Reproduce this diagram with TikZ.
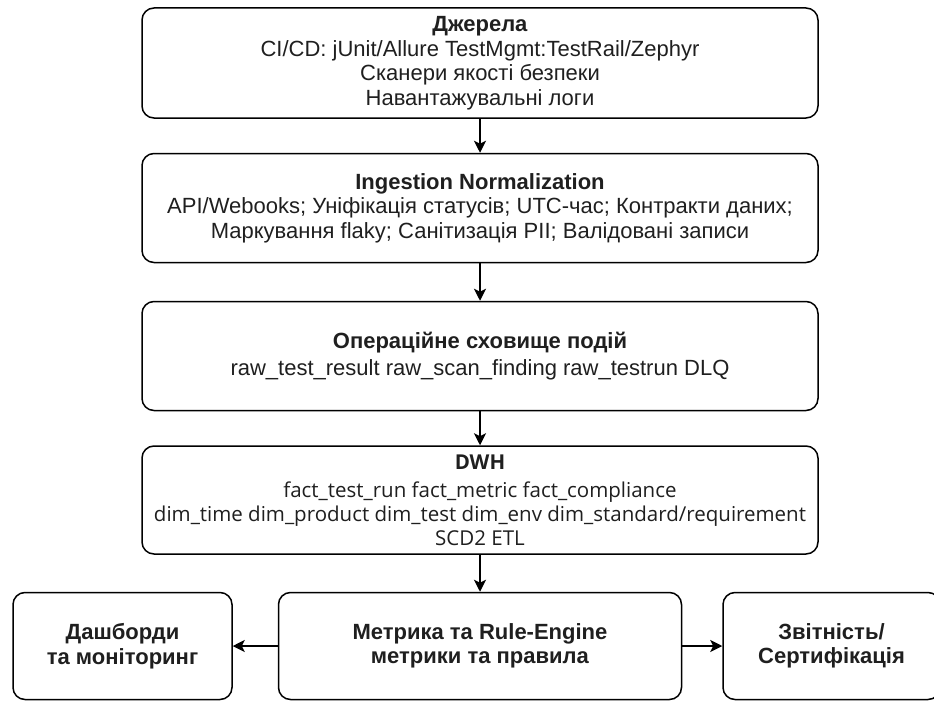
\documentclass[tikz,border=0pt]{standalone}
\usepackage{fontspec}
\setmainfont{Liberation Sans}
\newfontfamily\dwhfont{Open Sans}
\usetikzlibrary{arrows.meta}

\begin{document}
\begin{tikzpicture}[x=1pt,y=-1pt,
  box/.style={draw=black, line width=1.5pt, rounded corners=12pt, align=center,
    inner sep=0pt, text=black!88, font=\fontsize{22}{24.5}\selectfont},
  flow/.style={line width=1.5pt, -{Stealth[length=12pt,width=12pt,inset=3pt]}}]
  % page
  \useasboundingbox (0,0) rectangle (934,701);

  % pipeline, top to bottom
  \node[box, minimum width=676pt, minimum height=110pt] (sources) at (480,63)
    {\textbf{Джерела}\\CI/CD: jUnit/Allure TestMgmt:TestRail/Zephyr\\
     Сканери якості безпеки\\Навантажувальні логи};
  \node[box, minimum width=676pt, minimum height=109pt] (ingest) at (480,208)
    {\textbf{Ingestion Normalization}\\
     API/Webooks; Уніфікація статусів; UTC-час; Контракти даних;\\
     Маркування flaky; Санітизація PII; Валідовані записи};
  \node[box, minimum width=676pt, minimum height=109pt] (store) at (480,356)
    {\textbf{Операційне сховище подій}\\[2pt]
     raw\_test\_result raw\_scan\_finding raw\_testrun DLQ};
  \node[box, minimum width=676pt, minimum height=108pt,
        font=\dwhfont\fontsize{20.5}{24}\selectfont] (dwh) at (480,500)
    {\textbf{DWH}\\[4pt]fact\_test\_run fact\_metric fact\_compliance\\
     dim\_time dim\_product dim\_test dim\_env dim\_standard/requirement\\
     SCD2 ETL};

  % bottom row
  \node[box, minimum width=403pt, minimum height=107pt] (metric) at (480,646)
    {\textbf{Метрика та Rule-Engine}\\\textbf{метрики та правила}};
  \node[box, minimum width=219pt, minimum height=107pt] (dash) at (122.5,646)
    {\textbf{Дашборди}\\\textbf{та моніторинг}};
  \node[box, minimum width=217pt, minimum height=107pt] (report) at (831.5,646)
    {\textbf{Звітність/}\\\textbf{Сертифікація}};

  % arrows
  \draw[flow] (sources) -- (ingest);
  \draw[flow] (ingest) -- (store);
  \draw[flow] (store) -- (dwh);
  \draw[flow] (dwh) -- (metric);
  \draw[flow] (metric) -- (dash);
  \draw[flow] (metric) -- (report);
\end{tikzpicture}
\end{document}
